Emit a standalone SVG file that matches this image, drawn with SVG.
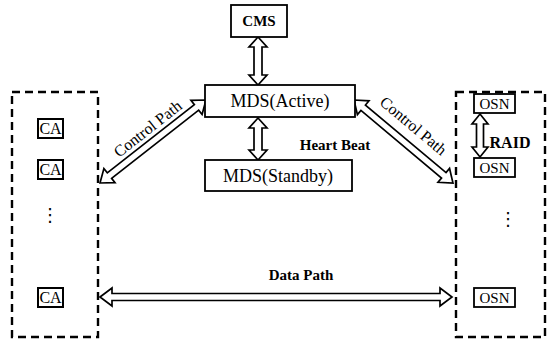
<svg xmlns="http://www.w3.org/2000/svg" width="555" height="345" viewBox="0 0 555 345">
<style>
.box{fill:#fff;stroke:#000;stroke-width:1.8}
.sbox{fill:#fff;stroke:#000;stroke-width:2}
.dash{fill:none;stroke:#000;stroke-width:2.4;stroke-dasharray:8 5}
.arr{fill:#fff;stroke:#000;stroke-width:1.7;stroke-linejoin:miter}
.t{font-family:"Liberation Serif","Times New Roman",serif;font-size:18px;fill:#000;text-anchor:middle}
.tb{font-family:"Liberation Serif","Times New Roman",serif;font-size:15px;font-weight:bold;fill:#000;text-anchor:middle}
.tr{font-family:"Liberation Serif","Times New Roman",serif;font-size:16px;font-weight:bold;fill:#000;text-anchor:middle}
.tc{font-family:"Liberation Serif","Times New Roman",serif;font-size:16px;fill:#000;text-anchor:middle}
.ts{font-family:"Liberation Serif","Times New Roman",serif;font-size:16px;fill:#000;text-anchor:middle}
.to{font-family:"Liberation Serif","Times New Roman",serif;font-size:15px;fill:#000;text-anchor:middle}
.dots{font-family:"DejaVu Sans",sans-serif;font-size:18px;fill:#000;text-anchor:middle}
</style>
<rect width="555" height="345" fill="#fff"/>
<g id="client-group"><rect class="dash" x="12" y="92" width="86" height="245"/></g>
<g id="osn-group"><rect class="dash" x="456" y="92" width="89" height="245"/></g>
<g id="connectors">
<polygon class="arr" transform="translate(258,37) rotate(90)" points="0,0 10,-9 10,-4 38,-4 38,-9 48,0 38,9 38,4 10,4 10,9"/>
<polygon class="arr" transform="translate(258,118) rotate(90)" points="0,0 10,-9 10,-4 32,-4 32,-9 42,0 32,9 32,4 10,4 10,9"/>
<polygon class="arr" transform="translate(480,114) rotate(90)" points="0,0 10,-8 10,-3.5 33,-3.5 33,-8 43,0 33,8 33,3.5 10,3.5 10,8"/>
<polygon class="arr" transform="translate(100,183) rotate(-38.06)" points="0,0 12,-9 12,-3.5 122.6,-3.5 122.6,-9 134.6,0 122.6,9 122.6,3.5 12,3.5 12,9"/>
<polygon class="arr" transform="translate(354,100) rotate(40)" points="0,0 12,-9 12,-3.5 117.2,-3.5 117.2,-9 129.2,0 117.2,9 117.2,3.5 12,3.5 12,9"/>
<polygon class="arr" points="100,297 112,288 112,293.5 440,293.5 440,288 452,297 440,306 440,300.5 112,300.5 112,306"/>
<text class="tc" transform="translate(151,133) rotate(-38.06)">Control Path</text>
<text class="tc" transform="translate(410,130) rotate(40)">Control Path</text>
<text class="tb" x="335" y="150">Heart Beat</text>
<text class="tr" x="510" y="148">RAID</text>
<text class="tb" x="301" y="280">Data Path</text>
</g>
<g id="cms"><rect class="box" x="231" y="5" width="56" height="32"/><text class="tb" x="259" y="26">CMS</text></g>
<g id="mds-active"><rect class="box" x="205" y="85" width="150" height="32"/><text class="t" x="280" y="107">MDS(Active)</text></g>
<g id="mds-standby"><rect class="box" x="205" y="160" width="147" height="31"/><text class="t" x="278" y="182">MDS(Standby)</text></g>
<g id="ca1"><rect class="sbox" x="38" y="119" width="25" height="19"/><text class="ts" x="50.5" y="134">CA</text></g>
<g id="ca2"><rect class="sbox" x="38" y="160" width="25" height="19"/><text class="ts" x="50.5" y="175">CA</text></g>
<g id="ca-dots"><text class="dots" x="50" y="221">⋮</text></g>
<g id="ca3"><rect class="sbox" x="38" y="288" width="25" height="19"/><text class="ts" x="50.5" y="303">CA</text></g>
<g id="osn1"><rect class="box" x="474" y="94" width="41" height="19"/><text class="to" x="494.5" y="109">OSN</text></g>
<g id="osn2"><rect class="box" x="474" y="158" width="41" height="19"/><text class="to" x="494.5" y="173">OSN</text></g>
<g id="osn-dots"><text class="dots" x="508" y="225">⋮</text></g>
<g id="osn3"><rect class="box" x="474" y="288" width="41" height="19"/><text class="to" x="494.5" y="303">OSN</text></g>
</svg>
